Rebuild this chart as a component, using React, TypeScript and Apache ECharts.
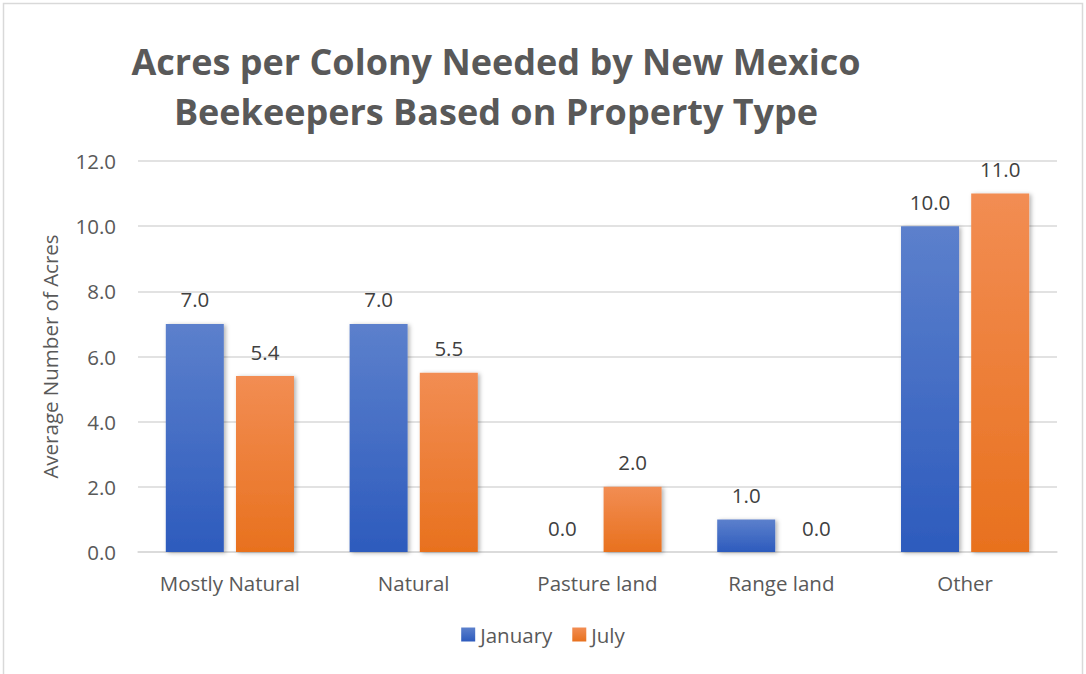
import React, { useEffect, useRef } from "react";
import * as echarts from "echarts";

const categories = ["Mostly Natural", "Natural", "Pasture land", "Range land", "Other"];
const january = [7.0, 7.0, 0.0, 1.0, 10.0];
const july = [5.4, 5.5, 2.0, 0.0, 11.0];
const titleLines = ["Acres per Colony Needed by New Mexico", "Beekeepers Based on Property Type"];
const yAxisName = "Average Number of Acres";

const FONT = "'Open Sans', 'Noto Sans', sans-serif";

export default function App() {
  const ref = useRef<HTMLDivElement>(null);
  useEffect(() => {
    document.body.style.margin = "0";
    const chart = echarts.init(ref.current!, undefined, { renderer: "svg" });
    const blue = new echarts.graphic.LinearGradient(0, 0, 0, 1, [
      { offset: 0, color: "#5C80CC" },
      { offset: 1, color: "#2D5BBD" },
    ]);
    const orange = new echarts.graphic.LinearGradient(0, 0, 0, 1, [
      { offset: 0, color: "#F28D53" },
      { offset: 1, color: "#E8711E" },
    ]);
    const label = {
      show: true,
      position: "top" as const,
      distance: 14,
      formatter: (p: any) => Number(p.value).toFixed(1),
      color: "#404040",
      fontSize: 20.5,
      fontFamily: FONT,
    };
    const shadow = { shadowBlur: 4, shadowOffsetX: 2, shadowOffsetY: 1, shadowColor: "rgba(0,0,0,0.3)" };
    chart.setOption({
      animation: false,
      backgroundColor: "#ffffff",
      title: {
        text: titleLines.join("\n"),
        left: 491,
        textAlign: "center",
        top: 31,
        textStyle: {
          color: "#595959",
          fontSize: 36,
          fontWeight: "bold",
          fontFamily: FONT,
          lineHeight: 50,
        },
      },
      graphic: [
        {
          type: "rect",
          shape: { x: 3.5, y: 3.5, width: 1079, height: 680 },
          style: { fill: "none", stroke: "#D9D9D9", lineWidth: 1.5 },
          silent: true,
        },
      ],
      legend: {
        bottom: 24,
        left: "center",
        itemWidth: 14,
        itemHeight: 14,
        itemGap: 20,
        icon: "rect",
        textStyle: { color: "#595959", fontSize: 20.5, fontFamily: FONT },
        data: ["January", "July"],
      },
      grid: { left: 138, right: 29, top: 161, bottom: 122 },
      xAxis: {
        type: "category",
        data: categories,
        axisTick: { show: false },
        axisLine: { lineStyle: { color: "#D9D9D9", width: 1.5 } },
        axisLabel: { color: "#595959", fontSize: 20.5, fontFamily: FONT, margin: 20 },
      },
      yAxis: {
        type: "value",
        min: 0,
        max: 12,
        interval: 2,
        name: yAxisName,
        nameLocation: "middle",
        nameGap: 78,
        nameTextStyle: { color: "#595959", fontSize: 20.5, fontFamily: FONT },
        axisLabel: {
          color: "#595959",
          fontSize: 20.5,
          fontFamily: FONT,
          margin: 22,
          formatter: (v: number) => v.toFixed(1),
        },
        splitLine: { lineStyle: { color: "#D9D9D9", width: 1.5 } },
      },
      series: [
        {
          name: "January",
          type: "bar",
          data: january,
          barWidth: 58,
          barGap: "21%",
          itemStyle: { color: blue, ...shadow },
          label,
        },
        {
          name: "July",
          type: "bar",
          data: july,
          barWidth: 58,
          itemStyle: { color: orange, ...shadow },
          label,
        },
      ],
    });
    return () => chart.dispose();
  }, []);
  return <div ref={ref} style={{ width: 1086, height: 674 }} />;
}
